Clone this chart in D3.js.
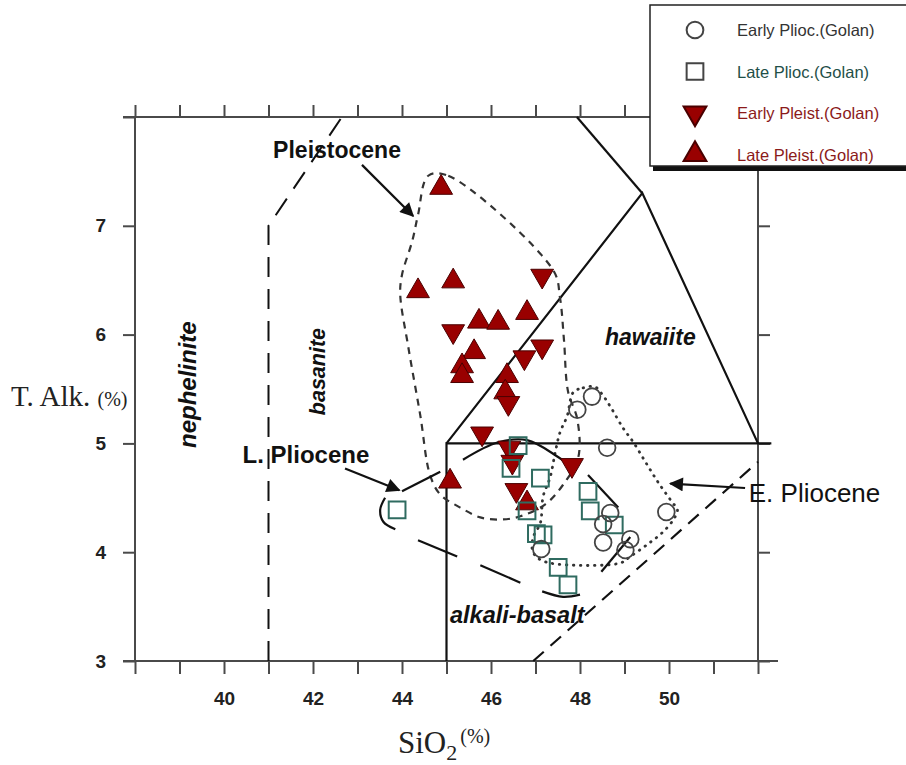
<!DOCTYPE html>
<html>
<head>
<meta charset="utf-8">
<script src="https://cdn.jsdelivr.net/npm/d3@7"></script>
<style>
  body { margin: 0; background: #fff; }
  svg { display: block; }
</style>
</head>
<body>
<svg width="906" height="765"></svg>
<script>
// series: [SiO2, total alkali]
const earlyPlioc = [
  [47.94, 5.31], [48.27, 5.43], [48.61, 4.96], [49.94, 4.37], [48.68, 4.36],
  [48.52, 4.26], [48.52, 4.09], [49.13, 4.12], [49.02, 4.02], [47.13, 4.03]
];
const latePlioc = [
  [43.89, 4.39], [46.61, 4.98], [46.45, 4.77], [47.11, 4.68], [46.81, 4.38],
  [47.02, 4.17], [47.17, 4.16], [48.18, 4.56], [48.23, 4.38], [48.77, 4.25],
  [47.51, 3.86], [47.73, 3.70]
];
const earlyPleist = [
  [47.15, 6.54], [45.15, 6.03], [47.15, 5.89], [46.75, 5.79], [46.39, 5.37],
  [45.80, 5.09], [46.41, 4.96], [46.48, 4.83], [46.57, 4.57], [47.82, 4.80]
];
const latePleist = [
  [44.88, 7.35], [45.15, 6.49], [44.36, 6.40], [45.73, 6.12], [46.16, 6.11],
  [46.81, 6.20], [45.62, 5.84], [45.35, 5.71], [45.35, 5.62], [46.36, 5.62],
  [46.32, 5.47], [45.08, 4.65], [46.81, 4.45]
];

const seriesNames = ["Early Plioc.(Golan)", "Late Plioc.(Golan)", "Early Pleist.(Golan)", "Late Pleist.(Golan)"];

const xTickValues = [38, 39, 40, 41, 42, 43, 44, 45, 46, 47, 48, 49, 50, 51, 52];
const xTickLabels = [40, 42, 44, 46, 48, 50];
const yTickValues = [3, 4, 5, 6, 7, 8];
const yTickLabels = [3, 4, 5, 6, 7];

// TAS field boundaries
const solidFields = [
  [[45, 3], [45, 5], [52.3, 5]],
  [[45, 5], [49.4, 7.3], [52, 5]],
  [[49.4, 7.3], [47.93, 8]]
];
const nephBoundary = [[41, 3], [41, 7], [42.65, 8]];
const alkalineDivide = [[46.95, 3], [52, 4.83]];

// group outlines
const pleistoceneField = [
  [44.59, 7.46], [45.04, 7.46], [47.40, 6.59], [47.55, 6.34], [47.64, 5.95],
  [47.73, 5.48], [47.94, 5.22], [47.96, 4.87], [47.62, 4.62], [47.22, 4.44],
  [46.66, 4.33], [46.21, 4.30], [45.76, 4.32], [45.31, 4.41], [44.86, 4.53],
  [44.63, 4.71], [44.41, 5.26], [44.14, 5.89], [43.96, 6.37], [44.00, 6.55],
  [44.23, 6.86], [44.36, 7.10]
];
const earlyPlioceneField = [
  [47.85, 5.47], [48.07, 5.51], [48.34, 5.52], [48.50, 5.45], [48.68, 5.34],
  [48.97, 5.14], [49.20, 5.01], [49.47, 4.83], [49.76, 4.64], [50.07, 4.46],
  [50.19, 4.39], [50.10, 4.30], [49.85, 4.18], [49.51, 4.07], [49.13, 3.96],
  [48.90, 3.90], [47.33, 3.90], [47.04, 3.95], [46.93, 4.02], [46.95, 4.14],
  [47.11, 4.27], [47.17, 4.51], [47.33, 4.69], [47.44, 4.91], [47.55, 5.10],
  [47.71, 5.25]
];
const latePlioceneField = [
  [[43.62, 4.50], [43.51, 4.39], [43.58, 4.28], [43.85, 4.21]],
  [[44.36, 4.11], [45.24, 3.96]],
  [[45.76, 3.88], [46.66, 3.72]],
  [[47.15, 3.64], [47.62, 3.59], [48.00, 3.61]],
  [[44.00, 4.56], [44.86, 4.74]],
  [[45.37, 4.85], [46.16, 5.01], [46.81, 5.03], [47.49, 4.88], [47.82, 4.78]],
  [[48.18, 4.71], [48.86, 4.41]],
  [[49.13, 4.14], [48.48, 3.82]]
];

const svg = d3.select("svg");

const x = d3.scaleLinear().domain([38, 52]).range([135, 758]);
const y = d3.scaleLinear().domain([3, 8]).range([661, 117]);

const lineGen = d3.line().x(d => x(d[0])).y(d => y(d[1]));

const frameColor = "#4a4a4a";

// frame
const frame = svg.append("g")
  .attr("stroke", frameColor)
  .attr("stroke-width", 2);

frame.append("line").attr("x1", 123).attr("x2", 778).attr("y1", y(3)).attr("y2", y(3));
frame.append("line").attr("x1", 123).attr("x2", 760).attr("y1", y(8)).attr("y2", y(8));
frame.append("line").attr("x1", x(38)).attr("x2", x(38)).attr("y1", y(8)).attr("y2", y(3));
frame.append("line").attr("x1", x(52)).attr("x2", x(52)).attr("y1", y(8)).attr("y2", y(3));

const tickFont = "Liberation Sans, Arial, sans-serif";

const bottomAxis = svg.append("g")
  .attr("transform", `translate(0, ${y(3)})`)
  .call(d3.axisBottom(x)
    .tickValues(xTickValues)
    .tickSize(13)
    .tickSizeOuter(0)
    .tickPadding(18)
    .tickFormat(d => xTickLabels.includes(d) ? d : ""));

const topAxis = svg.append("g")
  .attr("transform", `translate(0, ${y(8)})`)
  .call(d3.axisTop(x).tickValues(xTickValues).tickSize(12).tickSizeOuter(0).tickFormat(""));

const leftAxis = svg.append("g")
  .attr("transform", `translate(${x(38)}, 0)`)
  .call(d3.axisLeft(y)
    .tickValues(yTickValues)
    .tickSize(12)
    .tickSizeOuter(0)
    .tickPadding(17)
    .tickFormat(d => yTickLabels.includes(d) ? d : ""));

const rightAxis = svg.append("g")
  .attr("transform", `translate(${x(52)}, 0)`)
  .call(d3.axisRight(y).tickValues(yTickValues).tickSize(12).tickSizeOuter(0).tickFormat(""));

[bottomAxis, topAxis, leftAxis, rightAxis].forEach(a => {
  a.select(".domain").remove();
  a.selectAll(".tick line").attr("stroke", frameColor).attr("stroke-width", 2);
  a.selectAll(".tick text")
    .attr("font-family", tickFont)
    .attr("font-weight", "bold")
    .attr("font-size", 19)
    .attr("fill", "#222");
});

// field boundaries
svg.append("g")
  .selectAll("path")
  .data(solidFields)
  .join("path")
  .attr("d", lineGen)
  .attr("fill", "none")
  .attr("stroke", "#111")
  .attr("stroke-width", 2.2);

svg.append("path")
  .attr("d", lineGen(nephBoundary))
  .attr("fill", "none")
  .attr("stroke", "#111")
  .attr("stroke-width", 2)
  .attr("stroke-dasharray", "20,12");

svg.append("path")
  .attr("d", lineGen(alkalineDivide))
  .attr("fill", "none")
  .attr("stroke", "#111")
  .attr("stroke-width", 2.2)
  .attr("stroke-dasharray", "14,9");

// group outlines
const closedLine = d3.line().x(d => x(d[0])).y(d => y(d[1])).curve(d3.curveCatmullRomClosed);

svg.append("path")
  .attr("d", closedLine(pleistoceneField))
  .attr("fill", "none")
  .attr("stroke", "#333")
  .attr("stroke-width", 2.2)
  .attr("stroke-dasharray", "7,6");

svg.append("path")
  .attr("d", closedLine(earlyPlioceneField))
  .attr("fill", "none")
  .attr("stroke", "#333")
  .attr("stroke-width", 2.8)
  .attr("stroke-linecap", "round")
  .attr("stroke-dasharray", "0.5,6.5");

const openLine = d3.line().x(d => x(d[0])).y(d => y(d[1])).curve(d3.curveCatmullRom);

svg.append("g")
  .selectAll("path")
  .data(latePlioceneField)
  .join("path")
  .attr("d", openLine)
  .attr("fill", "none")
  .attr("stroke", "#111")
  .attr("stroke-width", 2.2);

// arrows
svg.append("defs")
  .append("marker")
  .attr("id", "head")
  .attr("viewBox", "0 0 10 10")
  .attr("refX", 9)
  .attr("refY", 5)
  .attr("markerWidth", 18)
  .attr("markerHeight", 14)
  .attr("markerUnits", "userSpaceOnUse")
  .attr("orient", "auto")
  .append("path")
  .attr("d", "M0,0L10,5L0,10Z")
  .attr("fill", "#111");

const arrows = [
  [[43.10, 7.56], [44.25, 7.09]],
  [[42.72, 4.77], [43.94, 4.57]],
  [[51.71, 4.59], [50.03, 4.63]]
];

svg.append("g")
  .selectAll("path")
  .data(arrows)
  .join("path")
  .attr("d", lineGen)
  .attr("stroke", "#111")
  .attr("stroke-width", 2.2)
  .attr("marker-end", "url(#head)");

// annotation labels
const annoFont = "Liberation Sans, Arial, sans-serif";
const annotations = [
  { text: "Pleistocene", at: [42.54, 7.70], size: 23, rot: 0, italic: false },
  { text: "L. Pliocene", at: [41.84, 4.90], size: 24, rot: 0, italic: false },
  { text: "E. Pliocene", at: [53.27, 4.54], size: 26, rot: 0, italic: false, weight: "normal" },
  { text: "nephelinite", at: [39.19, 5.54], size: 24, rot: -90, italic: true },
  { text: "basanite", at: [42.11, 5.66], size: 21.5, rot: -90, italic: true },
  { text: "hawaiite", at: [49.58, 5.98], size: 23, rot: 0, italic: true },
  { text: "alkali-basalt", at: [46.59, 3.42], size: 23.5, rot: 0, italic: true }
];

svg.append("g")
  .selectAll("text")
  .data(annotations)
  .join("text")
  .attr("transform", d => `translate(${x(d.at[0])}, ${y(d.at[1])}) rotate(${d.rot})`)
  .attr("text-anchor", "middle")
  .attr("dominant-baseline", "central")
  .attr("font-family", annoFont)
  .attr("font-weight", d => d.weight || "bold")
  .attr("font-style", d => d.italic ? "italic" : "normal")
  .attr("font-size", d => d.size)
  .attr("fill", "#111")
  .text(d => d.text);

// markers
const circleSym = d3.symbol().type(d3.symbolCircle).size(220)();
const squareSym = d3.symbol().type(d3.symbolSquare).size(280)();
const triSym = d3.symbol().type(d3.symbolTriangle).size(225)();

const pleistRed = "#990000";
const squareTeal = "#2f6b60";

svg.append("g")
  .selectAll("path")
  .data(latePleist)
  .join("path")
  .attr("d", triSym)
  .attr("transform", d => `translate(${x(d[0])}, ${y(d[1])})`)
  .attr("fill", pleistRed)
  .attr("stroke", "#4a0000")
  .attr("stroke-width", 1);

svg.append("g")
  .selectAll("path")
  .data(earlyPleist)
  .join("path")
  .attr("d", triSym)
  .attr("transform", d => `translate(${x(d[0])}, ${y(d[1])}) rotate(180)`)
  .attr("fill", pleistRed)
  .attr("stroke", "#4a0000")
  .attr("stroke-width", 1);

svg.append("g")
  .selectAll("path")
  .data(latePlioc)
  .join("path")
  .attr("d", squareSym)
  .attr("transform", d => `translate(${x(d[0])}, ${y(d[1])})`)
  .attr("fill", "none")
  .attr("stroke", squareTeal)
  .attr("stroke-width", 2);

svg.append("g")
  .selectAll("path")
  .data(earlyPlioc)
  .join("path")
  .attr("d", circleSym)
  .attr("transform", d => `translate(${x(d[0])}, ${y(d[1])})`)
  .attr("fill", "none")
  .attr("stroke", "#444")
  .attr("stroke-width", 1.8);

// axis titles
const serif = "Liberation Serif, Times New Roman, serif";

const yTitle = svg.append("text")
  .attr("x", 11)
  .attr("y", 406)
  .attr("font-family", serif)
  .attr("fill", "#222");
yTitle.append("tspan").attr("font-size", 29).text("T. Alk. ");
yTitle.append("tspan").attr("font-size", 20).text("(%)");

const xTitle = svg.append("text")
  .attr("x", 398)
  .attr("y", 753)
  .attr("font-family", serif)
  .attr("fill", "#222");
xTitle.append("tspan").attr("font-size", 31).text("SiO");
xTitle.append("tspan").attr("font-size", 22).attr("dy", 7).text("2");
xTitle.append("tspan").attr("font-size", 20).attr("dx", 3).attr("dy", -17).text("(%)");

// legend
const legend = svg.append("g").attr("transform", "translate(650, 5)");

legend.append("rect")
  .attr("x", 3).attr("y", 3)
  .attr("width", 270).attr("height", 163)
  .attr("fill", "#111");

legend.append("rect")
  .attr("width", 270).attr("height", 161)
  .attr("fill", "#fff")
  .attr("stroke", "#222")
  .attr("stroke-width", 1.5);

const legendSymbols = [
  { d: circleSym, rot: 0, fill: "none", stroke: "#444", text: "#333" },
  { d: squareSym, rot: 0, fill: "none", stroke: "#444", text: "#1f4f48" },
  { d: triSym, rot: 180, fill: pleistRed, stroke: "#4a0000", text: "#8b1a1a" },
  { d: triSym, rot: 0, fill: pleistRed, stroke: "#4a0000", text: "#8b1a1a" }
];

const legendRows = legend.selectAll("g.row")
  .data(seriesNames)
  .join("g")
  .attr("class", "row")
  .attr("transform", (d, i) => `translate(0, ${25 + i * 41.5})`);

legendRows.append("path")
  .attr("d", (d, i) => legendSymbols[i].d)
  .attr("transform", (d, i) => `translate(45, 0) rotate(${legendSymbols[i].rot})`)
  .attr("fill", (d, i) => legendSymbols[i].fill)
  .attr("stroke", (d, i) => legendSymbols[i].stroke)
  .attr("stroke-width", 2);

legendRows.append("text")
  .attr("x", 87)
  .attr("dominant-baseline", "central")
  .attr("font-family", tickFont)
  .attr("font-size", 16.5)
  .attr("fill", (d, i) => legendSymbols[i].text)
  .text(d => d);
</script>
</body>
</html>
